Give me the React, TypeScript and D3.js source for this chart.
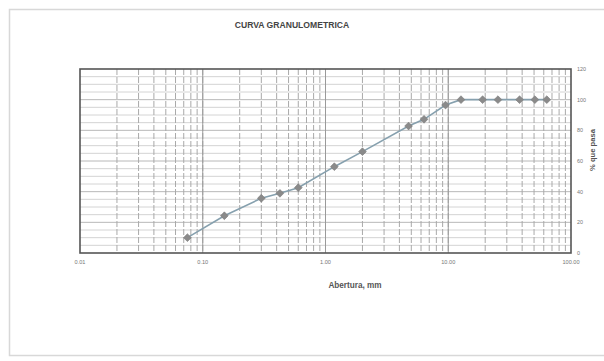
import React from "react";
import * as d3 from "d3";

// Sieve openings (mm) and cumulative percent passing
const openings = [0.075, 0.15, 0.3, 0.425, 0.6, 1.18, 2.0, 4.75, 6.35, 9.5, 12.7, 19.05, 25.4, 38.1, 50.8, 63.5];
const passing = [10.0, 24.3, 35.7, 38.9, 42.6, 56.3, 66.1, 82.8, 87.2, 96.5, 100, 100, 100, 100, 100, 100];

const xTickValues = [0.01, 0.1, 1, 10, 100];
const xTickLabels = ["0.01", "0.10", "1.00", "10.00", "100.00"];
const yTickValues = [0, 20, 40, 60, 80, 100, 120];

const chartTitle = "CURVA GRANULOMETRICA";
const xTitle = "Abertura, mm";
const yTitle = "% que pasa";

const W = 604;
const H = 361;
const plot = { left: 80, right: 571, top: 69, bottom: 253 };

export default function App() {
  const x = d3.scaleLog().domain([0.01, 100]).range([plot.left, plot.right]);
  const y = d3.scaleLinear().domain([0, 120]).range([plot.bottom, plot.top]);

  // Minor log grid: 1..9 per decade
  const minorX: number[] = [];
  for (let e = -2; e < 2; e++) {
    for (let m = 1; m <= 9; m++) {
      const v = m * Math.pow(10, e);
      if (v > 0.01 && v < 100) minorX.push(v);
    }
  }
  const decadeX = [0.1, 1, 10];
  const minorY = d3.range(5, 120, 5);

  const line = d3
    .line<number>()
    .x((_, i) => x(openings[i]))
    .y((d) => y(d));

  // Square diamond marker
  const r = 3.9;
  const diamond = `M0,${-r}L${r},0L0,${r}L${-r},0Z`;

  return (
    <svg
      width={W}
      height={H}
      style={{ position: "absolute", left: 0, top: 0, background: "#fff" }}
      fontFamily="Arial, 'Liberation Sans', sans-serif"
    >
      <rect x={9.5} y={9.5} width={620} height={346} fill="#fff" stroke="#d8d8d8" strokeWidth={1.5} />
      <text x={292} y={28} textAnchor="middle" fontSize={8.6} fontWeight="bold" fill="#444">
        {chartTitle}
      </text>

      {/* grid */}
      <g>
        {minorY.map((v) => (
          <line
            key={"hy" + v}
            x1={plot.left}
            x2={plot.right}
            y1={y(v)}
            y2={y(v)}
            stroke={v % 20 === 0 ? "#b0b0b0" : "#cfcfcf"}
            strokeWidth={0.9}
          />
        ))}
        {minorX.map((v, i) => (
          <line
            key={"vx" + i}
            x1={x(v)}
            x2={x(v)}
            y1={plot.top}
            y2={plot.bottom}
            stroke="#a9a9a9"
            strokeWidth={1}
            strokeDasharray="6 2"
          />
        ))}
        {decadeX.map((v) => (
          <line key={"dx" + v} x1={x(v)} x2={x(v)} y1={plot.top} y2={plot.bottom} stroke="#9a9a9a" strokeWidth={1} />
        ))}
      </g>

      <rect
        x={plot.left}
        y={plot.top}
        width={plot.right - plot.left}
        height={plot.bottom - plot.top}
        fill="none"
        stroke="#555"
        strokeWidth={1.6}
      />

      {/* x axis labels */}
      {xTickValues.map((v, i) => (
        <text key={"xt" + v} x={x(v)} y={263.5} textAnchor="middle" fontSize={5.6} fill="#777">
          {xTickLabels[i]}
        </text>
      ))}
      <text x={355} y={287.5} textAnchor="middle" fontSize={8.2} fontWeight="bold" fill="#555">
        {xTitle}
      </text>

      {/* right axis labels */}
      {yTickValues.map((v) => (
        <text key={"yt" + v} x={577} y={y(v) + 2} textAnchor="start" fontSize={5.4} fill="#777">
          {v}
        </text>
      ))}
      <text
        transform={`translate(595,150) rotate(-90)`}
        textAnchor="middle"
        fontSize={7.6}
        fontWeight="bold"
        fill="#555"
      >
        {yTitle}
      </text>

      {/* curve */}
      <path d={line(passing) || ""} fill="none" stroke="#86a0ae" strokeWidth={1.6} />
      {passing.map((v, i) => (
        <path
          key={"pt" + i}
          d={diamond}
          transform={`translate(${x(openings[i])},${y(v)})`}
          fill="#8a8a8a"
          stroke="#7a7a7a"
          strokeWidth={0.6}
        />
      ))}
    </svg>
  );
}
